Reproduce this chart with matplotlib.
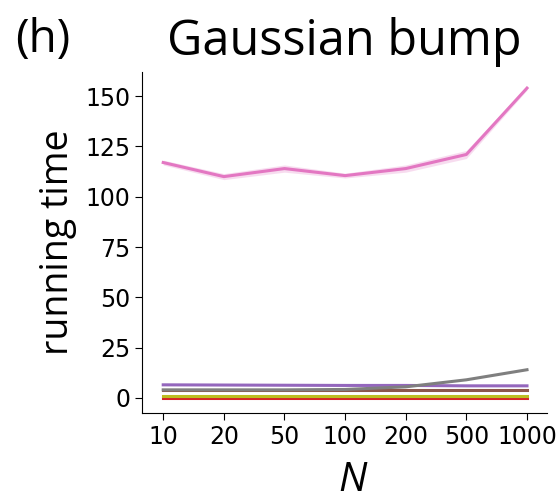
import numpy as np
import matplotlib
matplotlib.use("Agg")
import matplotlib.pyplot as plt

# N values (categorical x axis)
n_labels = ["10", "20", "50", "100", "200", "500", "1000"]

# running time per method
pink = [117, 110, 114, 110.5, 114, 121, 154]
pink_ci = [1.2, 1.5, 1.8, 1.2, 1.8, 2.0, 1.0]
purple = [6.5, 6.4, 6.3, 6.2, 6.2, 6.0, 6.0]
gray = [4.0, 4.0, 4.0, 4.2, 5.5, 9.0, 14.0]
brown = [4.0, 4.0, 4.0, 4.0, 4.0, 4.0, 4.0]
olive = [0.8, 0.8, 0.8, 0.8, 0.8, 0.8, 0.8]
red = [0.2, 0.2, 0.2, 0.2, 0.2, 0.2, 0.2]

series = [
    (red, "#d62728"),
    (olive, "#bcbd22"),
    (brown, "#8c564b"),
    (purple, "#9467bd"),
    (gray, "#7f7f7f"),
    (pink, "#e377c2"),
]

fig = plt.figure(figsize=(5.56, 4.91), dpi=100)
ax = fig.add_axes([142 / 556, 1 - 413 / 491, 405 / 556, 341 / 491])

x = np.arange(len(n_labels))
for vals, col in series:
    ax.plot(x, vals, color=col, lw=2.2)
lo = np.array(pink) - np.array(pink_ci)
hi = np.array(pink) + np.array(pink_ci)
ax.fill_between(x, lo, hi, color="#e377c2", alpha=0.25, lw=0)

ax.set_xticks(x)
ax.set_xticklabels(n_labels)
ax.set_xlim(-0.35, 6.33)
ax.set_ylim(-7.5, 162)
ax.set_yticks([0, 25, 50, 75, 100, 125, 150])
ax.tick_params(labelsize=17, length=5)
ax.spines["top"].set_visible(False)
ax.spines["right"].set_visible(False)

ax.set_ylabel("running time", fontsize=27, family="Open Sans")
ax.yaxis.set_label_coords(-0.16, 0.5)
ax.set_xlabel("N", fontsize=29, family="Open Sans", style="italic")
ax.xaxis.set_label_coords(0.52, -0.14)
ax.set_title("Gaussian bump", fontsize=35, family="Open Sans", pad=12)
fig.text(0.027, 0.965, "(h)", fontsize=33, family="Open Sans", va="top")

fig.savefig("out.png", dpi=100)
